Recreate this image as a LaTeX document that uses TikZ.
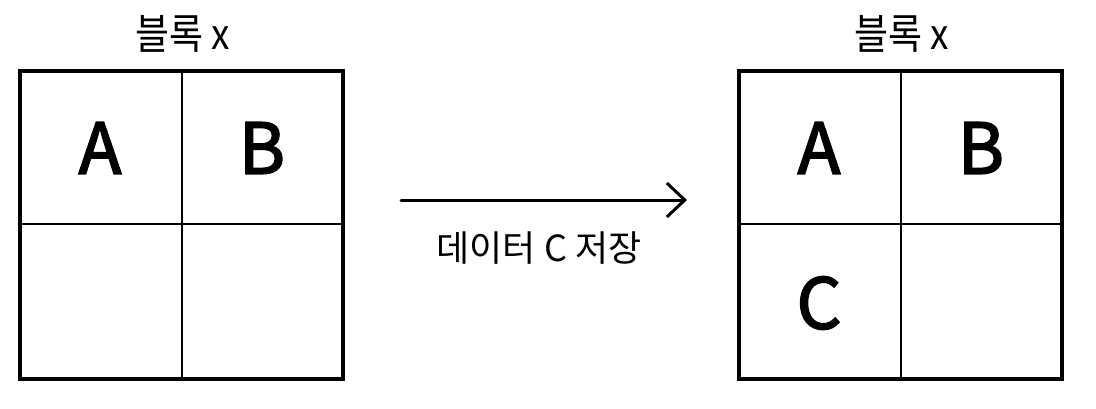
\documentclass[tikz,border=0pt]{standalone}
\usepackage{fontspec}
\setmainfont{Noto Sans CJK KR}
\newfontfamily\hw[FakeStretch=0.88]{Noto Sans CJK KR}
\newfontfamily\cellfont[FakeBold=2.5]{Noto Sans CJK KR}
\usetikzlibrary{arrows.meta}
\tikzset{
  block/.style={draw=black, line width=3.5pt, minimum width=323pt, minimum height=308pt, inner sep=0pt},
  divider/.style={draw=black, line width=2.6pt},
  cellletter/.style={font=\cellfont\fontsize{70}{70}\selectfont, inner sep=0pt},
  blocktitle/.style={font=\hw\fontsize{42}{42}\selectfont, inner sep=0pt},
  steplabel/.style={font=\fontsize{36}{36}\selectfont, inner sep=0pt},
  flow/.style={draw=black, line width=3pt, line cap=round, -{Straight Barb[length=18pt, width=34pt, line width=3pt]}}
}
\begin{document}
\begin{tikzpicture}[x=1pt,y=-1pt]
\useasboundingbox[fill=white] (0,0) rectangle (1096,408);
\node[block] (L) at (181.5,225) {};
\draw[divider] ([xshift=0.5pt]L.north) -- ([xshift=0.5pt]L.south);
\draw[divider] ([yshift=1pt]L.west) -- ([yshift=1pt]L.east);
\node[blocktitle] (LT) at (183,34) {블록 x};
\node[cellletter] (LA) at (100,148) {A};
\node[cellletter] (LB) at (262,148) {B};
\node[block] (R) at (900.5,225) {};
\draw[divider] ([xshift=0.5pt]R.north) -- ([xshift=0.5pt]R.south);
\draw[divider] ([yshift=1pt]R.west) -- ([yshift=1pt]R.east);
\node[blocktitle] (RT) at (902,34) {블록 x};
\node[cellletter] (RA) at (819,148) {A};
\node[cellletter] (RB) at (981,148) {B};
\node[cellletter] (RC) at (819,303) {C};
\coordinate (s) at (401,200);
\coordinate (e) at (687,200);
\draw[flow] (s) -- (e);
\node[steplabel] (lbl) at (539,248) {데이터 C 저장};
\end{tikzpicture}
\end{document}
